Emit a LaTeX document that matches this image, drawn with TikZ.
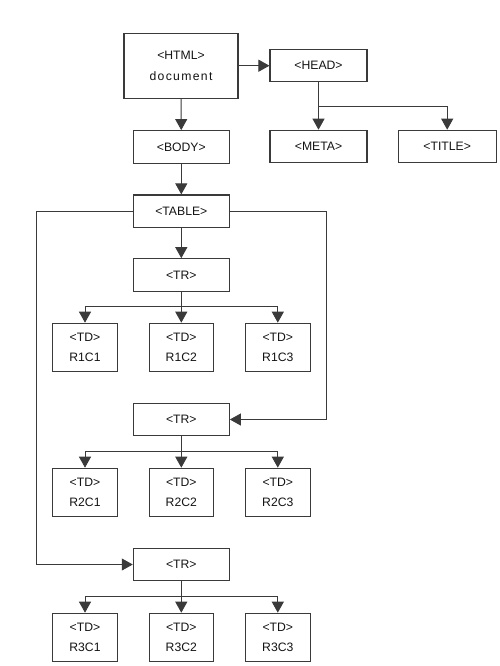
\documentclass[tikz,border=0pt]{standalone}
\usepackage{fontspec}
\setmainfont{Liberation Sans}
\newfontfamily\docfont[LetterSpace=11]{Liberation Sans}
\usetikzlibrary{arrows.meta}
\definecolor{ln}{HTML}{3A3A3A}
\definecolor{tx}{HTML}{141414}
\begin{document}
\begin{tikzpicture}[x=1pt,y=-1pt,
  box/.style={draw=ln, line width=1.1pt, fill=white, text=tx, inner sep=0pt, align=center,
    font=\fontsize{12.2}{20.5}\selectfont},
  wide/.style={box, minimum width=96pt, minimum height=32.5pt},
  tdbox/.style={box, minimum width=64.5pt, minimum height=48.5pt},
  conn/.style={draw=ln, line width=0.9pt},
  arr/.style={conn, -{Triangle[length=11pt,width=12pt]}}]
\useasboundingbox (0,0) rectangle (500,666);
% nodes
\node[box, minimum width=114pt, minimum height=65pt] (html) at (181,65.8) {<HTML>\\{\docfont document}};
\node[wide, minimum width=97pt] (head) at (318.5,65.7) {<HEAD>};
\node[wide] (body) at (181.3,146.9) {<BODY>};
\node[wide, minimum width=97pt] (meta) at (318.5,146.5) {<META>};
\node[wide, minimum width=98pt] (title) at (447.2,146.5) {<TITLE>};
\node[wide] (table) at (181.3,211.2) {<TABLE>};
\node[wide] (tr1) at (181.3,275) {<TR>};
\node[wide] (tr2) at (181.3,419.5) {<TR>};
\node[wide] (tr3) at (181.3,564.5) {<TR>};
\foreach \r/\y in {1/347.5, 2/492.5, 3/637.5} {
  \node[tdbox] (r\r c1) at (85,\y) {<TD>\\R\r C1};
  \node[tdbox] (r\r c2) at (181.3,\y) {<TD>\\R\r C2};
  \node[tdbox] (r\r c3) at (277.8,\y) {<TD>\\R\r C3};
}
% coordinates
\coordinate (hb) at (318.5,106);
\coordinate (tl) at (36.7,211.2);
\coordinate (tr) at (326,211.2);
\coordinate (b1) at (181.3,306.8);
\coordinate (b2) at (181.3,451.8);
\coordinate (b3) at (181.3,596.8);
% connectors
\draw[arr] (html.east |- head.west) -- (head.west);
\draw[arr] (html) -- (body);
\draw[arr] (head) -- (meta);
\draw[arr] (hb) -| (title.north);
\draw[arr] (body) -- (table);
\draw[arr] (table) -- (tr1);
\draw[arr] (table.east) -- (tr) |- (tr2.east);
\draw[arr] (table.west) -- (tl) |- (tr3.west);
\foreach \i in {1,2,3} {
  \draw[conn] (tr\i.south) -- (b\i);
  \draw[arr] (b\i) -- (r\i c2.north);
  \draw[arr] (b\i) -| (r\i c1.north);
  \draw[arr] (b\i) -| (r\i c3.north);
}
\end{tikzpicture}
\end{document}
